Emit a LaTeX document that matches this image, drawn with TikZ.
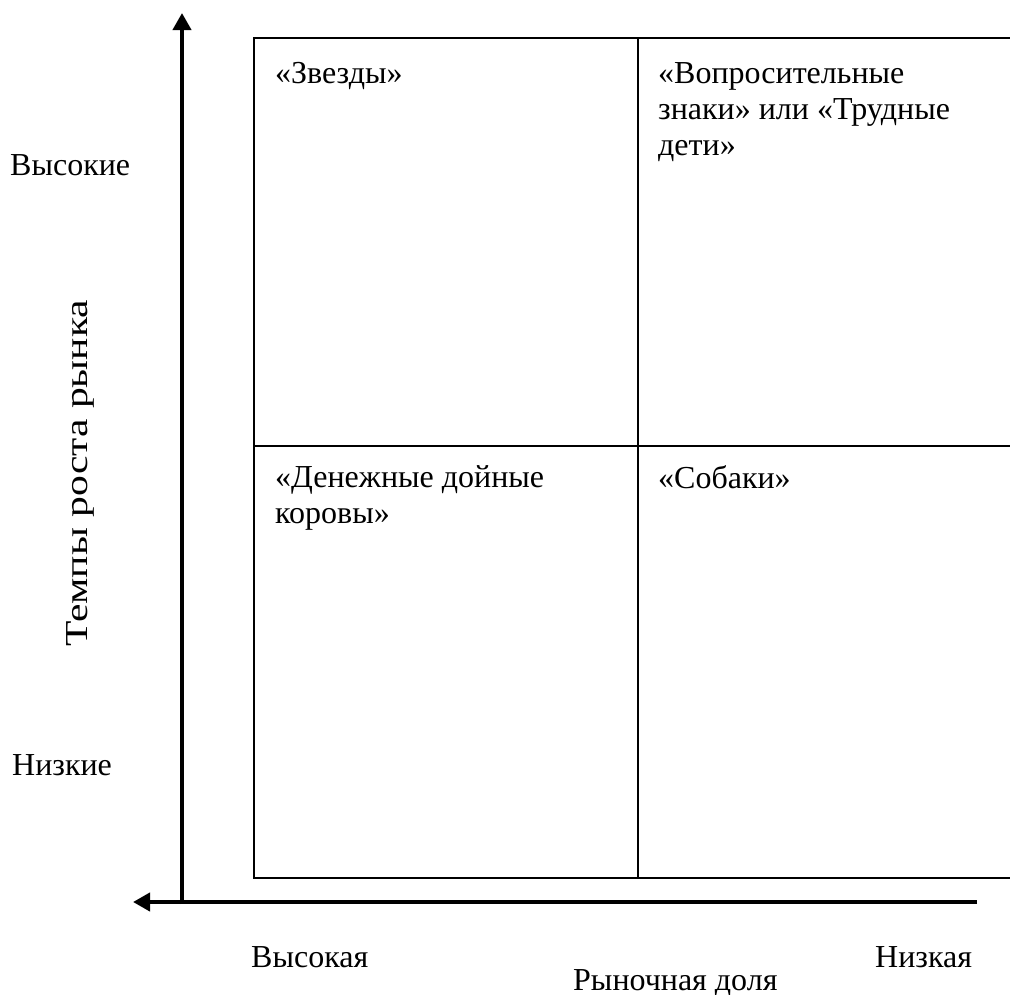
\documentclass[tikz,border=0pt]{standalone}
\usepackage{fontspec}
\setmainfont{Liberation Serif}
\usetikzlibrary{arrows.meta}
\begin{document}
\begin{tikzpicture}[x=1pt,y=-1pt,
  axis/.style={line width=4pt,-{Triangle[width=18pt,length=17pt]}},
  grid/.style={line width=1.8pt},
  lbl/.style={inner sep=0pt,font=\fontsize{32}{36}\selectfont},
  quad/.style={lbl,anchor=north west,align=left}]
\clip (0,0) rectangle (1010,994);
\fill[white] (0,0) rectangle (1010,994);

% matrix frame (right side runs off the page)
\coordinate (tl) at (254,38);
\coordinate (br) at (1040,878);
\coordinate (mt) at (638,38);
\coordinate (mb) at (638,878);
\coordinate (ml) at (254,446);
\coordinate (mr) at (1040,446);
\draw[grid] (tl) rectangle (br);
\draw[grid] (mt) -- (mb);
\draw[grid] (ml) -- (mr);

% axes
\coordinate (yb) at (182,904);
\coordinate (yt) at (182,13);
\coordinate (xr) at (977,902);
\coordinate (xl) at (133,902);
\draw[axis] (yb) -- (yt);
\draw[axis] (xr) -- (xl);

% axis labels
\node[lbl,anchor=base west] (hi) at (10,175) {Высокие};
\node[lbl,anchor=base west] (lo) at (12,775) {Низкие};
\node[lbl,anchor=base west] (hs) at (251,967) {Высокая};
\node[lbl,anchor=base west] (ls) at (875,967) {Низкая};
\node[lbl,anchor=base west] (share) at (573,990) {Рыночная доля};
\node[lbl,anchor=base west,rotate=90] (growth) at (87,647)
  {\scalebox{1.3}[1]{Темпы роста рынка}};

% quadrant names
\node[quad] (stars) at (275,62) {«Звезды»};
\node[quad] (quest) at (658,62) {«Вопросительные\\знаки» или «Трудные\\дети»};
\node[quad] (cows) at (275,465) {«Денежные дойные\\коровы»};
\node[quad] (dogs) at (658,465) {«Собаки»};
\end{tikzpicture}
\end{document}
